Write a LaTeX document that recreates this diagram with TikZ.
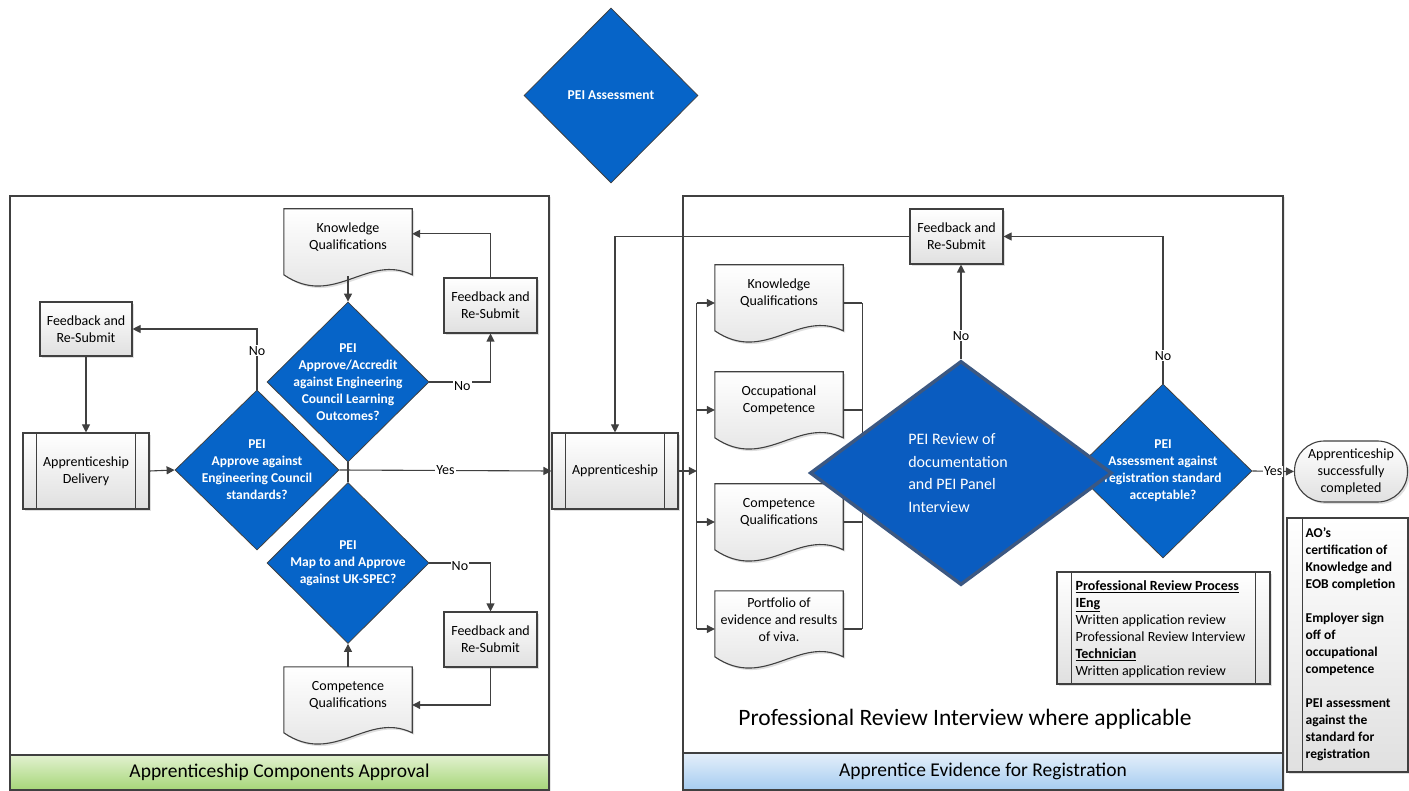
\documentclass[tikz,border=0pt]{standalone}
\usepackage{fontspec}
\setmainfont{Carlito}
\usetikzlibrary{shapes.geometric,arrows.meta,calc,shadows}
\definecolor{dblue}{RGB}{6,100,200}
\definecolor{bigblue}{RGB}{10,92,192}
\definecolor{bigedge}{RGB}{60,88,130}
\definecolor{lc}{RGB}{64,64,64}
\definecolor{boxbot}{RGB}{224,224,224}
\definecolor{gtop}{RGB}{226,241,208}
\definecolor{gbot}{RGB}{166,214,120}
\definecolor{btop}{RGB}{228,239,250}
\definecolor{bbot}{RGB}{166,204,240}
\tikzset{
  every node/.style={font=\fontsize{14}{17}\selectfont, text=black},
  sshadow/.style={drop shadow={shadow xshift=2pt, shadow yshift=-2pt, opacity=.25}},
  shadebox/.style={top color=white, bottom color=boxbot, draw=lc, line width=1.1pt, sshadow},
  fbbox/.style={shadebox, rectangle, minimum width=93pt, minimum height=55pt, align=center, inner sep=0pt},
  procbox/.style={shadebox, rectangle, minimum width=126pt, minimum height=76pt, align=center, inner sep=0pt},
  docnode/.style={rectangle, minimum width=128pt, minimum height=76pt, inner sep=0pt},
  doctxt/.style={align=center, inner sep=0pt},
  docpath/.style={top color=white, bottom color=boxbot, draw=lc, line width=1.1pt, sshadow},
  dtext/.style={text=white, font=\bfseries\fontsize{13.5}{17}\selectfont, align=center},
  bigtext/.style={text=white, font=\fontsize{16}{22.7}\selectfont, align=left},
  dec/.style={diamond, fill=dblue, draw=lc, line width=0.8pt, inner sep=0pt},
  conn/.style={draw=lc, line width=1.1pt},
  arr/.style={conn, -{Triangle[length=8pt,width=8pt]}},
  lab/.style={fill=white, inner sep=1pt, font=\fontsize{14}{17}\selectfont},
  panel/.style={draw=lc, line width=1.1pt, fill=white, drop shadow={shadow xshift=2pt, shadow yshift=-1pt, opacity=.2}},
  bandtxt/.style={font=\fontsize{19.5}{22}\selectfont},
}
\newcommand\docshape[1]{\path[docpath] (#1.north west) -- (#1.north east) -- ($(#1.north east)+(0,66)$) .. controls +(-45,-22) and +(50,34) .. ($(#1.north west)+(0,66)$) -- cycle;}
\newcommand\mydoc[4]{%
  \node[docnode] (#1) at (#2,#3) {};
  \docshape{#1}
  \node[doctxt] (#1-t) at ($(#1.center)+(0,-9.5)$) {#4};
}
\newcommand\procbars[2]{%
  \draw[conn] ($(#1.north west)+(#2,0)$) -- ($(#1.south west)+(#2,0)$);
  \draw[conn] ($(#1.north east)+(-#2,0)$) -- ($(#1.south east)+(-#2,0)$);
}
\begin{document}
\begin{tikzpicture}[x=1pt,y=-1pt]
\useasboundingbox (0,0) rectangle (1409,791);

% top diamond
\node[dec, minimum width=174pt, minimum height=175pt, label={[dtext]center:PEI Assessment}] (pa) at (611,95.5) {};

% panels
\path[panel] (10,196) rectangle (549,790);
\node[draw=lc, line width=1.1pt, top color=gtop, bottom color=gbot, minimum width=539pt, minimum height=35pt, inner sep=0pt, bandtxt] (bandL) at (279.5,772.5) {Apprenticeship Components Approval};
\path[panel] (683,196) rectangle (1283,790);
\node[draw=lc, line width=1.1pt, top color=btop, bottom color=bbot, minimum width=600pt, minimum height=37pt, inner sep=0pt, bandtxt] (bandR) at (983,771.5) {Apprentice Evidence for Registration};

% ---------- left panel ----------
\mydoc{kq1}{348}{247}{Knowledge\\Qualifications}
\mydoc{cq1}{348}{705}{Competence\\Qualifications}
\node[fbbox] (fbR1) at (490.5,305.5) {Feedback and\\Re-Submit};
\node[fbbox, minimum width=92pt, minimum height=54pt] (fbL1) at (86,329) {Feedback and\\Re-Submit};
\node[fbbox] (fbR2) at (490.5,639.5) {Feedback and\\Re-Submit};
\node[procbox] (ad) at (86,471) {Apprenticeship\\Delivery};
\procbars{ad}{14}
\node[procbox] (appr) at (615,471) {Apprenticeship};
\procbars{appr}{14}

\node[dec, minimum width=162pt, minimum height=160pt,
  label={[dtext]center:{PEI\\Approve/Accredit\\against Engineering\\Council Learning\\Outcomes?}}] (d1) at (348,382) {};
\node[dec, minimum width=164pt, minimum height=160pt,
  label={[dtext]center:{PEI\\Approve against\\Engineering Council\\standards?}}] (d2) at (257,470) {};
\node[dec, minimum width=162pt, minimum height=161pt,
  label={[dtext]center:{PEI\\Map to and Approve\\against UK-SPEC?}}] (d3) at (348,563) {};

\draw[arr] ($(kq1.south)+(0,-9)$) -- (d1.north);
\draw[arr] (d1.east) -| node[lab, pos=0.27, yshift=-4pt]{No} (fbR1.south);
\draw[arr] (fbR1.north) |- ($(kq1.north east)+(0,25)$);
\draw[arr] (d2.north) |- node[lab, pos=0.32]{No} (fbL1.east);
\draw[arr] (fbL1.south) -- (ad.north);
\draw[arr] (ad.east) -- (d2.west);
\draw[conn] (d1.south) -- (d3.north);
\draw[arr] (d2.east) -- node[lab]{Yes} (appr.west);
\draw[arr] (d3.east) -| node[lab, pos=0.25, yshift=-3pt]{No} (fbR2.north);
\draw[arr] (fbR2.south) |- (cq1.east);
\draw[arr] (cq1.north) -- (d3.south);

% ---------- right panel ----------
\mydoc{kq2}{779}{303}{Knowledge\\Qualifications}
\mydoc{oc2}{779}{410}{Occupational\\Competence}
\mydoc{cq2}{779}{522}{Competence\\Qualifications}
\mydoc{pf2}{779}{629}{Portfolio of\\evidence and results\\of viva.}

\coordinate (busT) at ($(kq2.west)+(-18,0)$);
\coordinate (busB) at ($(pf2.west)+(-18,0)$);
\draw[conn] (busT) -- (busB);
\draw[arr] (appr.east) -- (appr.east -| busT);
\foreach \d in {kq2,oc2,cq2,pf2} {\draw[arr] (busT |- \d.west) -- (\d.west);}
\coordinate (colT) at ($(kq2.east)+(19,0)$);
\coordinate (colB) at ($(pf2.east)+(19,0)$);
\draw[conn] (colT) -- (colB);
\foreach \d in {kq2,oc2,cq2,pf2} {\draw[conn] (\d.east) -- (\d.east -| colT);}

\node[fbbox] (fb3) at (956.5,236.5) {Feedback and\\Re-Submit};

\node[dec, minimum width=178pt, minimum height=174pt,
  label={[dtext]center:{PEI\\Assessment against\\registration standard\\acceptable?}}] (d5) at (1163,471) {};
\node[diamond, fill=bigblue, draw=bigedge, line width=3.5pt, inner sep=0pt, minimum width=302pt, minimum height=224pt,
  label={[bigtext, xshift=-3pt]center:{PEI Review of\\documentation\\and PEI Panel\\Interview}}] (bigd) at (961,473) {};

\draw[arr] (bigd.north) -- node[lab, pos=0.25]{No} (bigd.north |- fb3.south);
\draw[arr] (d5.north) |- node[lab, pos=0.095]{No} (fb3.east);
\draw[arr] (fb3.west) -| (appr.north);

\node[shadebox, rectangle, rounded corners=30pt, minimum width=113pt, minimum height=61pt, align=center, inner sep=0pt] (term) at (1351,471.5) {Apprenticeship\\successfully\\completed};
\draw[arr] (d5.east) -- node[lab]{Yes} (term.west);

% professional review box
\node[shadebox, rectangle, minimum width=213pt, minimum height=112pt, inner sep=0pt] (pr) at (1163.5,628) {};
\procbars{pr}{15}
\node[anchor=west, align=left, inner sep=0pt] (prt) at ($(pr.west)+(19,1.5)$)
 {\textbf{\underline{Professional Review Process}}\\
  \textbf{\underline{IEng}}\\
  Written application review\\
  Professional Review Interview\\
  \textbf{\underline{Technician}}\\
  Written application review};

% AO box
\node[shadebox, rectangle, minimum width=121pt, minimum height=254pt, inner sep=0pt] (ao) at (1347.5,645) {};
\draw[conn] ($(ao.north west)+(16,0)$) -- ($(ao.south west)+(16,0)$);
\node[anchor=west, align=left, inner sep=0pt, font=\bfseries\fontsize{13.5}{17}\selectfont] (aot) at ($(ao.west)+(19,-1)$)
 {AO’s\\certification of\\Knowledge and\\EOB completion\\[17pt]
  Employer sign\\off of\\occupational\\competence\\[17pt]
  PEI assessment\\against the\\standard for\\registration};

\node[font=\fontsize{23.5}{26}\selectfont, inner sep=0pt] (note) at (965,719) {Professional Review Interview where applicable};
\end{tikzpicture}
\end{document}
